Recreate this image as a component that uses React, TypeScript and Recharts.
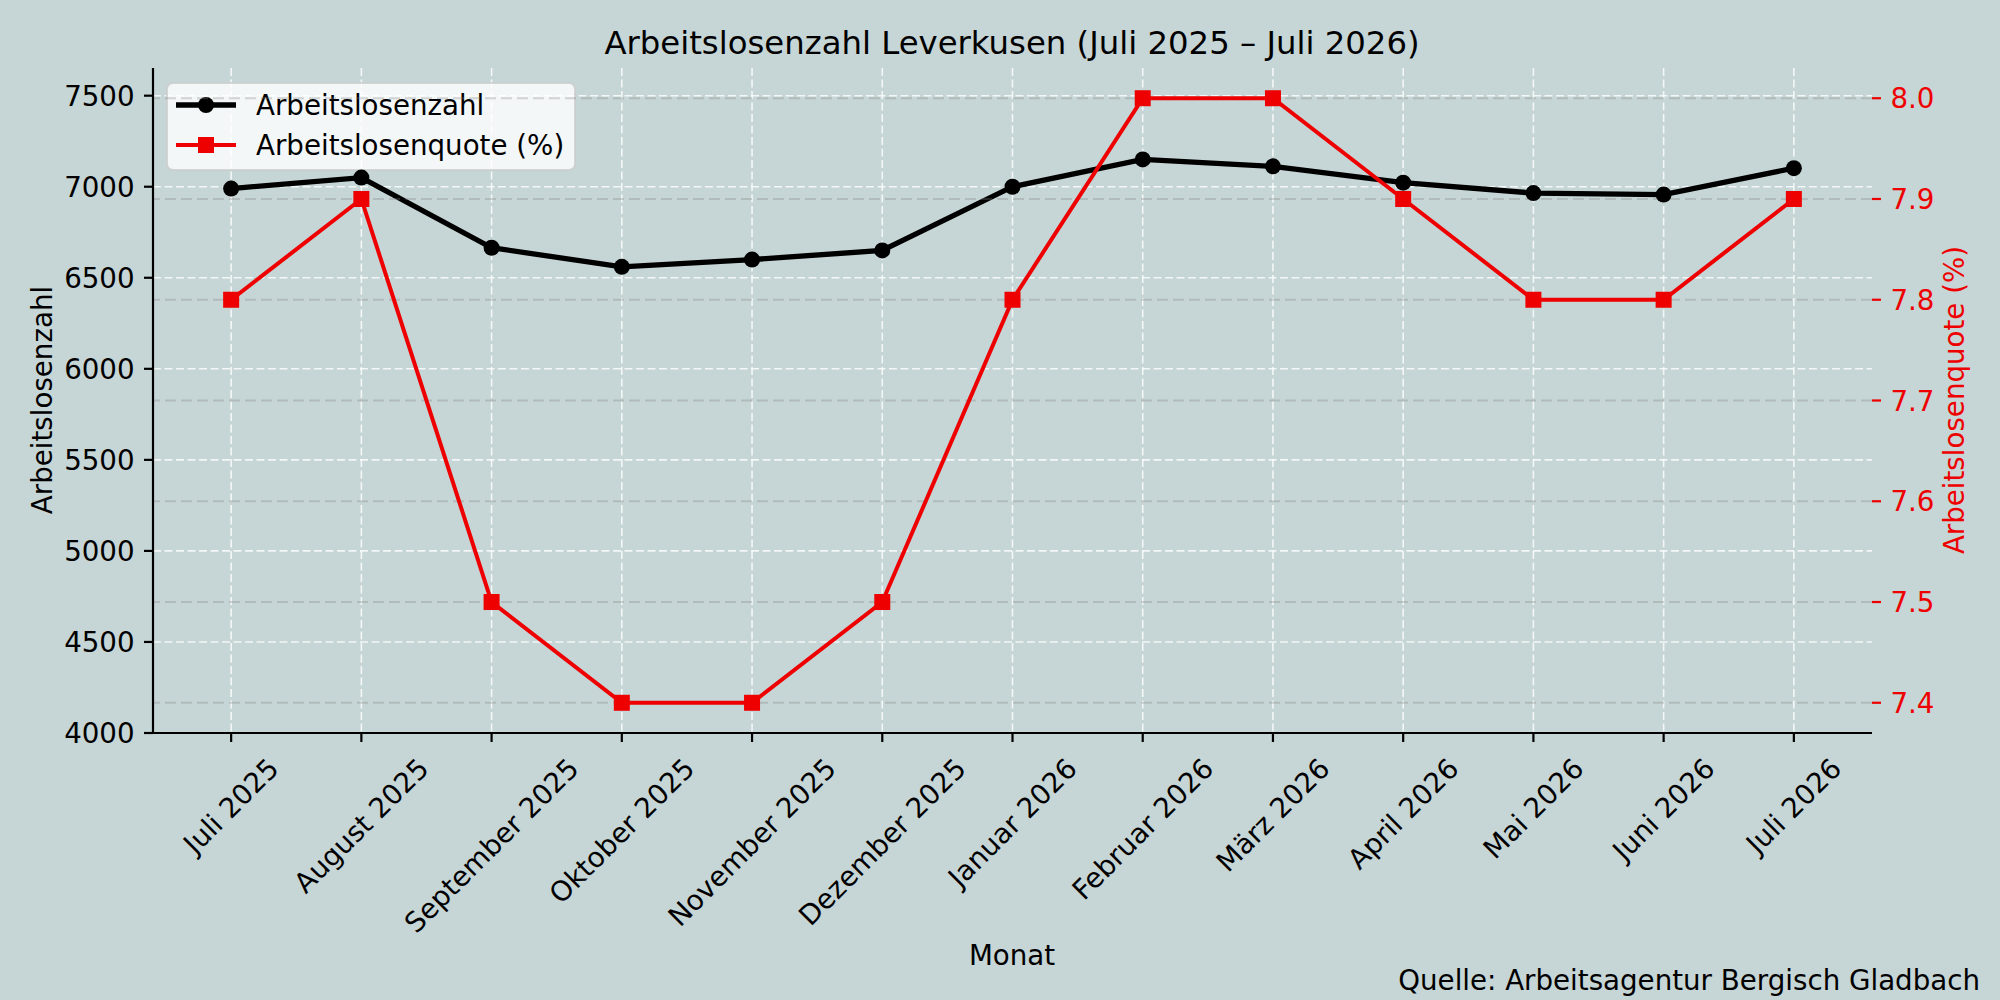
import React from "react";
import {
  ComposedChart,
  Line,
  XAxis,
  YAxis,
  CartesianGrid,
  ReferenceLine,
  Customized,
} from "recharts";

const months = [
  "Juli 2025",
  "August 2025",
  "September 2025",
  "Oktober 2025",
  "November 2025",
  "Dezember 2025",
  "Januar 2026",
  "Februar 2026",
  "März 2026",
  "April 2026",
  "Mai 2026",
  "Juni 2026",
  "Juli 2026",
];
const arbeitslosenzahl = [6990, 7050, 6665, 6560, 6600, 6650, 7000, 7150, 7112, 7022, 6965, 6957, 7102];
const arbeitslosenquote = [7.8, 7.9, 7.5, 7.4, 7.4, 7.5, 7.8, 8.0, 8.0, 7.9, 7.8, 7.8, 7.9];
const leftTicks = [4000, 4500, 5000, 5500, 6000, 6500, 7000, 7500];
const rightTicks = [7.4, 7.5, 7.6, 7.7, 7.8, 7.9, 8.0];
const xTicks = months.map((_, i) => i);

const TITLE = "Arbeitslosenzahl Leverkusen (Juli 2025 \u2013 Juli 2026)";
const SOURCE = "Quelle: Arbeitsagentur Bergisch Gladbach";

const data = months.map((m, i) => ({
  idx: i,
  month: m,
  zahl: arbeitslosenzahl[i],
  quote: arbeitslosenquote[i],
}));

const FS = 27.7;
const TFS = 32.35;
const FONT = '"DejaVu Sans", sans-serif';
const BG = "#c6d5d5";
const RED = "#ee0000";

let ctx: CanvasRenderingContext2D | null = null;
function measure(t: string): number {
  if (!ctx) {
    const c = document.createElement("canvas");
    ctx = c.getContext("2d");
  }
  if (!ctx) return t.length * FS * 0.6;
  ctx.font = `${FS}px "DejaVu Sans"`;
  return ctx.measureText(t).width;
}

function XTick(props: any) {
  const { x, y, payload } = props;
  const label = months[payload.value];
  const w = measure(label);
  const h = 1.164 * FS;
  const side = (w + h) / Math.SQRT2;
  const cy = y + side / 2;
  return (
    <g transform={`translate(${x},${cy}) rotate(-45)`}>
      <text x={0} y={0.346 * FS} textAnchor="middle" fontSize={FS} fontFamily={FONT} fill="#000">
        {label}
      </text>
    </g>
  );
}

function LeftTick(props: any) {
  const { x, y, payload } = props;
  return (
    <text x={x} y={y} dy={0.3645 * FS} textAnchor="end" fontSize={FS} fontFamily={FONT} fill="#000">
      {payload.value}
    </text>
  );
}

function RightTick(props: any) {
  const { x, y, payload } = props;
  return (
    <text x={x} y={y} dy={0.3645 * FS} textAnchor="start" fontSize={FS} fontFamily={FONT} fill={RED}>
      {Number(payload.value).toFixed(1)}
    </text>
  );
}

function Texts() {
  return (
    <g fontFamily={FONT}>
      <text x={1012} y={54} textAnchor="middle" fontSize={TFS} fill="#000">
        {TITLE}
      </text>
      <text x={1012} y={965} textAnchor="middle" fontSize={FS} fill="#000">
        Monat
      </text>
      <text x={1980} y={990} textAnchor="end" fontSize={FS} fill="#000">
        {SOURCE}
      </text>
      <text transform="translate(52,400) rotate(-90)" textAnchor="middle" fontSize={FS} fill="#000">
        Arbeitslosenzahl
      </text>
      <text transform="translate(1964,400) rotate(-90)" textAnchor="middle" fontSize={FS} fill={RED}>
        Arbeitslosenquote (%)
      </text>
    </g>
  );
}

function LegendBox() {
  return (
    <g fontFamily={FONT}>
      <rect x={167} y={83} width={408} height={87} rx={6} ry={6} fill="#ffffff" fillOpacity={0.8} stroke="#cccccc" strokeOpacity={0.8} strokeWidth={2} />
      <line x1={176} y1={105} x2={236} y2={105} stroke="#000" strokeWidth={5.3} />
      <circle cx={206} cy={105} r={8} fill="#000" />
      <text x={256} y={105} dy={0.35 * FS} fontSize={FS} fill="#000">
        Arbeitslosenzahl
      </text>
      <line x1={176} y1={145} x2={236} y2={145} stroke={RED} strokeWidth={4} />
      <rect x={198} y={137} width={16} height={16} fill={RED} />
      <text x={256} y={145} dy={0.35 * FS} fontSize={FS} fill="#000">
        Arbeitslosenquote (%)
      </text>
    </g>
  );
}

const blackDot = (p: any) => <circle key={`b${p.index}`} cx={p.cx} cy={p.cy} r={8} fill="#000" />;
const redDot = (p: any) => <rect key={`r${p.index}`} x={p.cx - 8} y={p.cy - 8} width={16} height={16} fill={RED} />;

export default function App() {
  return (
    <div style={{ position: "absolute", left: 0, top: 0, width: 2000, height: 1000, background: BG }}>
      <ComposedChart
        width={2000}
        height={1000}
        data={data}
        margin={{ top: 68, right: 0, bottom: 167, left: 0 }}
        style={{ background: BG }}
      >
        <Customized component={Texts} />
        <CartesianGrid
          yAxisId="left"
          stroke="#ffffff"
          strokeOpacity={0.8}
          strokeWidth={1.6}
          strokeDasharray="8 3.5"
          horizontalValues={leftTicks}
          verticalValues={xTicks}
        />
        <XAxis
          dataKey="idx"
          type="number"
          domain={[-0.6, 12.6]}
          ticks={xTicks}
          interval={0}
          height={100}
          tickSize={9}
          tickMargin={10}
          axisLine={{ stroke: "#000", strokeWidth: 2.2 }}
          tickLine={{ stroke: "#000", strokeWidth: 2.2 }}
          tick={<XTick />}
        />
        <YAxis
          yAxisId="left"
          orientation="left"
          width={153}
          domain={[4000, 7652]}
          ticks={leftTicks}
          interval={0}
          allowDataOverflow
          tickSize={9}
          tickMargin={9.4}
          axisLine={{ stroke: "#000", strokeWidth: 2.2 }}
          tickLine={{ stroke: "#000", strokeWidth: 2.2 }}
          tick={<LeftTick />}
        />
        <YAxis
          yAxisId="right"
          orientation="right"
          width={128}
          domain={[7.37, 8.03]}
          ticks={rightTicks}
          interval={0}
          allowDataOverflow
          tickSize={9}
          tickMargin={9.4}
          axisLine={false}
          tickLine={{ stroke: RED, strokeWidth: 2.2 }}
          tick={<RightTick />}
        />
        <Line
          yAxisId="left"
          dataKey="zahl"
          stroke="#000"
          strokeWidth={5.3}
          dot={blackDot}
          activeDot={false}
          isAnimationActive={false}
        />
        <Customized component={LegendBox} />
        {rightTicks.map((v) => (
          <ReferenceLine
            key={v}
            yAxisId="right"
            y={v}
            stroke="#808080"
            strokeOpacity={0.3}
            strokeWidth={2}
            strokeDasharray="11 5"
          />
        ))}
        <Line
          yAxisId="right"
          dataKey="quote"
          stroke={RED}
          strokeWidth={4}
          dot={redDot}
          activeDot={false}
          isAnimationActive={false}
        />
      </ComposedChart>
    </div>
  );
}
